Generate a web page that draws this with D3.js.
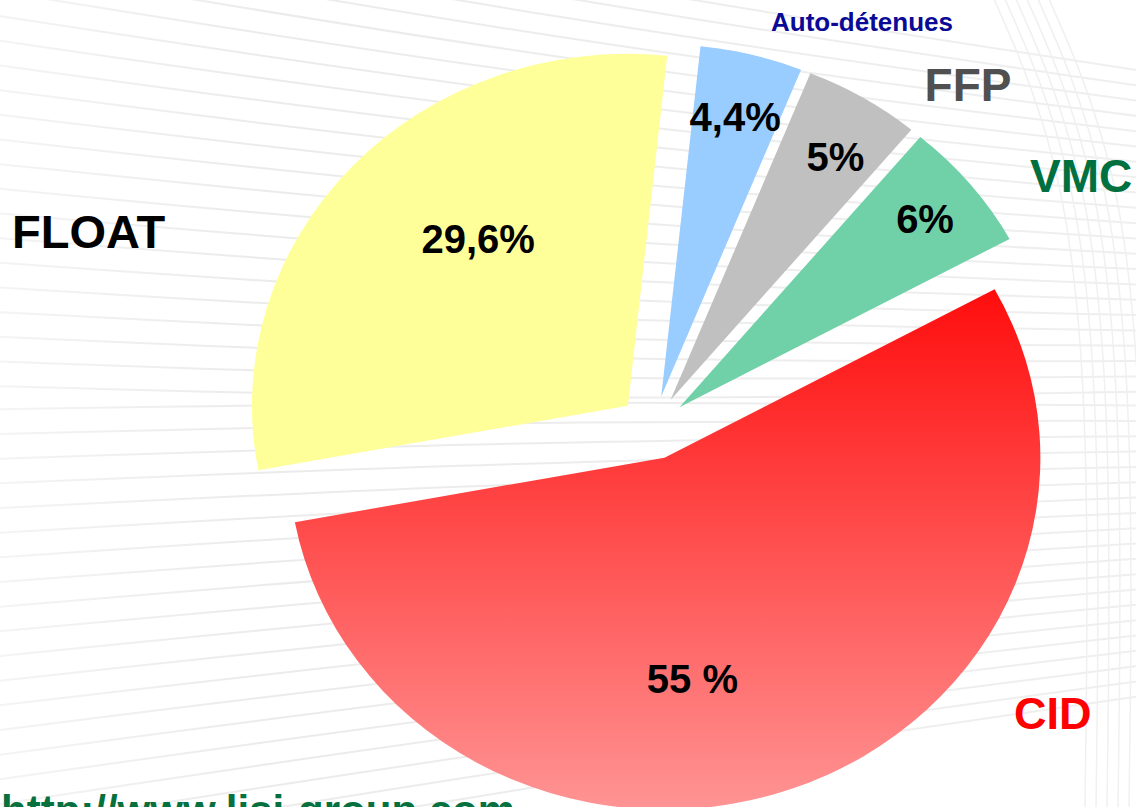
<!DOCTYPE html>
<html lang="fr">
<head>
<meta charset="utf-8">
<title>Répartition du capital</title>
<script src="https://cdn.jsdelivr.net/npm/d3@7"></script>
<style>
  html, body { margin: 0; padding: 0; background: #ffffff; }
  svg { display: block; }
  text { font-family: "Liberation Sans", Arial, Helvetica, sans-serif; font-weight: bold; }
</style>
</head>
<body>
<svg id="chart" width="1136" height="807"></svg>
<script>
// Shareholding breakdown (percent of capital)
const categories  = ["Auto-détenues", "FFP", "VMC", "CID", "FLOAT"];
const shares      = [4.4, 5, 6, 55, 29.6];
const valueLabels = ["4,4%", "5%", "6%", "55 %", "29,6%"];

// Styling
const sliceColors = {
  "Auto-détenues": "#99ccff",
  "FFP": "#c0c0c0",
  "VMC": "#70d1a8",
  "CID": "url(#cidGradient)",
  "FLOAT": "#ffff99"
};
const nameStyles = {
  "Auto-détenues": { color: "#0a0a96", size: 26, x: 862, y: 22, anchor: "middle" },
  "FFP":           { color: "#505050", size: 46, x: 968, y: 84, anchor: "middle" },
  "VMC":           { color: "#007040", size: 46, x: 1030, y: 175, anchor: "start" },
  "CID":           { color: "#ff0000", size: 45, x: 1014, y: 713, anchor: "start" },
  "FLOAT":         { color: "#000000", size: 47, x: 12, y: 231, anchor: "start" }
};
// label radius (fraction of the pie radius) and angular nudge (degrees) for value labels
const valueLabelPlacement = {
  "Auto-détenues": { rf: 0.818, da: 0 },
  "FFP":           { rf: 0.82,  da: 1.5 },
  "VMC":           { rf: 0.845, da: 0 },
  "CID":           { rf: 0.632, da: 12.8 },
  "FLOAT":         { rf: 0.62,  da: 7.3 }
};

const W = 1136, H = 807;
const cx = 653, cy = 427.5;     // pie centre
const radius = 352;
const stretchX = 1.068;         // the pie is drawn slightly wider than tall
const explode = 32;             // every slice pulled out from the centre
const startDeg = 6;

const svg = d3.select("#chart");
const defs = svg.append("defs");

const grad = defs.append("linearGradient")
  .attr("id", "cidGradient")
  .attr("x1", 0).attr("y1", 0).attr("x2", 0).attr("y2", 1);
grad.append("stop").attr("offset", "0%").attr("stop-color", "#ff0d0d");
grad.append("stop").attr("offset", "100%").attr("stop-color", "#ff9494");

// ---- decorative background: a soft fan of grey strokes ----
const bg = svg.append("g").attr("class", "background");
const fade = defs.append("linearGradient")
  .attr("id", "fadeLeft").attr("x1", 0).attr("y1", 0).attr("x2", 1).attr("y2", 0);
fade.append("stop").attr("offset", "0%").attr("stop-color", "#ebebeb").attr("stop-opacity", 0.5);
fade.append("stop").attr("offset", "25%").attr("stop-color", "#ebebeb").attr("stop-opacity", 1);
fade.append("stop").attr("offset", "100%").attr("stop-color", "#efefef").attr("stop-opacity", 1);

const fanLines = d3.range(-4, 38);
const curve = d3.line().curve(d3.curveBasis);
bg.selectAll("path.fan")
  .data(fanLines)
  .join("path")
  .attr("class", "fan")
  .attr("fill", "none")
  .attr("stroke", "url(#fadeLeft)")
  .attr("stroke-width", 2)
  .attr("d", i => {
    const yL = -40 + i * 25;
    const yR = 400 + (yL - 400) * 0.6;
    const yM = (yL + yR) / 2 + (yL < 400 ? 14 : -8);
    return curve([[-40, yL], [560, yM], [W + 40, yR]]);
  });

// near-vertical sweep on the right edge
bg.selectAll("path.sweep")
  .data(d3.range(0, 6))
  .join("path")
  .attr("class", "sweep")
  .attr("fill", "none")
  .attr("stroke", "#f0f0f0")
  .attr("stroke-width", 1.5)
  .attr("d", i => {
    const x0 = 1040 + i * 11;
    return curve([[x0 - 50, -10], [x0 + 25, 160], [x0 + 50, 420], [x0 + 45, 807]]);
  });

// ---- pie ----
const pieData = categories.map((c, i) => ({ name: c, share: shares[i], label: valueLabels[i] }));
const toRad = d => d * Math.PI / 180;

const pie = d3.pie()
  .sort(null)
  .value(d => d.share)
  .startAngle(toRad(startDeg))
  .endAngle(toRad(startDeg) + 2 * Math.PI);

const arc = d3.arc().innerRadius(0).outerRadius(radius);
const arcs = pie(pieData);

const pieG = svg.append("g")
  .attr("transform", `translate(${cx},${cy}) scale(${stretchX},1)`);

function offsetOf(d) {
  const mid = (d.startAngle + d.endAngle) / 2;
  return [explode * Math.sin(mid), -explode * Math.cos(mid)];
}

pieG.selectAll("path.slice")
  .data(arcs)
  .join("path")
  .attr("class", "slice")
  .attr("transform", d => { const o = offsetOf(d); return `translate(${o[0]},${o[1]})`; })
  .attr("fill", d => sliceColors[d.data.name])
  .attr("d", arc);

// value labels, positioned in screen space (not stretched)
svg.append("g").selectAll("text.value")
  .data(arcs)
  .join("text")
  .attr("class", "value")
  .attr("text-anchor", "middle")
  .attr("dy", "0.36em")
  .attr("font-size", 40)
  .attr("fill", "#000")
  .attr("x", d => {
    const p = valueLabelPlacement[d.data.name];
    const a = (d.startAngle + d.endAngle) / 2 + toRad(p.da);
    const o = offsetOf(d);
    return cx + stretchX * (o[0] + p.rf * radius * Math.sin(a));
  })
  .attr("y", d => {
    const p = valueLabelPlacement[d.data.name];
    const a = (d.startAngle + d.endAngle) / 2 + toRad(p.da);
    const o = offsetOf(d);
    return cy + o[1] - p.rf * radius * Math.cos(a);
  })
  .text(d => d.data.label);

// category names
svg.append("g").selectAll("text.name")
  .data(categories)
  .join("text")
  .attr("class", "name")
  .attr("x", c => nameStyles[c].x)
  .attr("y", c => nameStyles[c].y)
  .attr("dy", "0.36em")
  .attr("text-anchor", c => nameStyles[c].anchor)
  .attr("font-size", c => nameStyles[c].size)
  .attr("fill", c => nameStyles[c].color)
  .text(c => c);

// footer link, running off the bottom edge
svg.append("text")
  .attr("x", 1)
  .attr("y", 825)
  .attr("font-size", 42)
  .attr("fill", "#06703e")
  .text("http://www.lisi-group.com");
</script>
</body>
</html>
